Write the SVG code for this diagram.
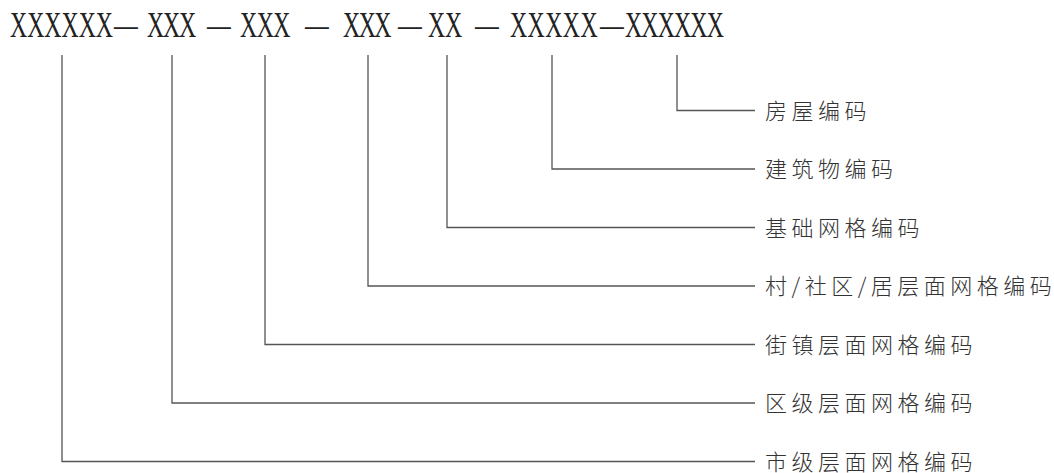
<svg xmlns="http://www.w3.org/2000/svg" width="1054" height="473" viewBox="0 0 1054 473">
<style>
.code{font-family:"Liberation Serif","DejaVu Serif",serif;font-size:36px;fill:#222}
.lbl{font-family:"Noto Sans CJK SC","Noto Sans",sans-serif;font-size:22px;font-weight:300;fill:#333;letter-spacing:4.5px}
.conn{fill:none;stroke:#555;stroke-width:1.3}
</style>
<rect width="1054" height="473" fill="#fff"/>
<g id="code">
<text class="code" transform="scale(0.66,1)" y="37" x="15.15 41.2 67.1 93.2 119.2 145.2 172.7 222.7 247 271.2 313.6 363.6 388.9 414.1 462.1 519.7 543.5 567.1 603 648.5 674.2 719.7 772.7 799.4 826.1 852.7 879.4 909.1 947 971.7 996.5 1021.2 1045.9 1070.8">XXXXXX—XXX—XXX—XXX—XX—XXXXX—XXXXXX</text>
</g>
<g id="connectors">
<polyline class="conn" points="677,55 677,110.5 755,110.5"/>
<polyline class="conn" points="552,55 552,169 755,169"/>
<polyline class="conn" points="447,55 447,227.5 755,227.5"/>
<polyline class="conn" points="368,55 368,286 755,286"/>
<polyline class="conn" points="265,55 265,344.5 755,344.5"/>
<polyline class="conn" points="172,55 172,403 755,403"/>
<polyline class="conn" points="62,55 62,461.5 755,461.5"/>
</g>
<g id="house"><text class="lbl" x="765" y="118.5">房屋编码</text></g>
<g id="building"><text class="lbl" x="765" y="177">建筑物编码</text></g>
<g id="base-grid"><text class="lbl" x="765" y="235.5">基础网格编码</text></g>
<g id="village-grid"><text class="lbl" x="765" y="294">村/社区/居层面网格编码</text></g>
<g id="street-grid"><text class="lbl" x="765" y="352.5">街镇层面网格编码</text></g>
<g id="district-grid"><text class="lbl" x="765" y="411">区级层面网格编码</text></g>
<g id="city-grid"><text class="lbl" x="765" y="469.5">市级层面网格编码</text></g>
</svg>
